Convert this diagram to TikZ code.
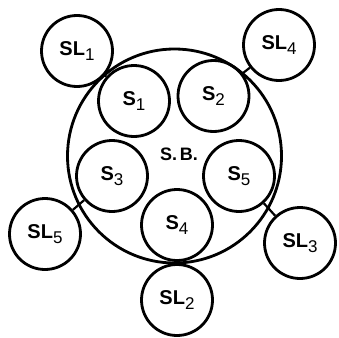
\documentclass[tikz,border=0pt]{standalone}
\usepackage{fontspec}
\setmainfont{Liberation Sans}
\usetikzlibrary{positioning}

\newcommand{\sublab}[2]{#1\raisebox{-4.5pt}{\fontsize{17}{17}\selectfont\mdseries #2}}

\tikzset{
  ring/.style={draw, circle, line width=2.8pt, minimum size=71pt, inner sep=0pt,
               font=\fontsize{20}{24}\selectfont\bfseries},
  link/.style={line width=2.2pt},
}

\begin{document}
\begin{tikzpicture}[x=1pt, y=-1pt]
  \useasboundingbox (0,0) rectangle (339,337);

  % the big board
  \node[draw, circle, line width=2.8pt, minimum size=214pt, inner sep=0pt] (sb) at (174.5,156) {};
  \node[font=\fontsize{18}{20}\selectfont\bfseries] (sblab) at (179,154) {S.\,B.};

  % inner circles
  \node[ring] (s1) at (134,101) {\sublab{S}{1}};
  \node[ring] (s2) at (213.5,96) {\sublab{S}{2}};
  \node[ring] (s3) at (112,176) {\sublab{S}{3}};
  \node[ring] (s5) at (239,176) {\sublab{S}{5}};
  \node[ring] (s4) at (177,225) {\sublab{S}{4}};

  % outer circles
  \node[ring] (sl1) at (77,51)   {\sublab{SL}{1}};
  \node[ring] (sl4) at (279,45)  {\sublab{SL}{4}};
  \node[ring] (sl5) at (45,234)  {\sublab{SL}{5}};
  \node[ring] (sl3) at (300,243) {\sublab{SL}{3}};
  \node[ring] (sl2) at (177,300) {\sublab{SL}{2}};

  \draw[link] (sl1) -- (s1);
  \draw[link] (sl4) -- (s2);
  \draw[link] (sl5) -- (s3);
  \draw[link] (sl3) -- (s5);
  \draw[link] (sl2) -- (s4);
\end{tikzpicture}
\end{document}
